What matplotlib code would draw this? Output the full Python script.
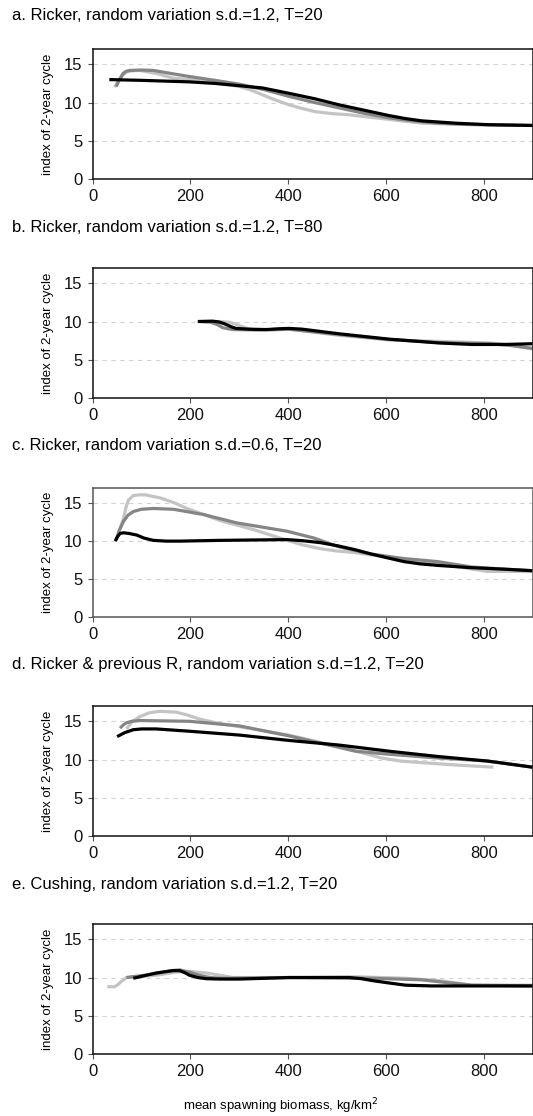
import numpy as np
import matplotlib
matplotlib.use("Agg")
import matplotlib.pyplot as plt

plt.rcParams['font.family'] = ['Liberation Sans', 'DejaVu Sans']

titles = [
    "a. Ricker, random variation s.d.=1.2, T=20",
    "b. Ricker, random variation s.d.=1.2, T=80",
    "c. Ricker, random variation s.d.=0.6, T=20",
    "d. Ricker & previous R, random variation s.d.=1.2, T=20",
    "e. Cushing, random variation s.d.=1.2, T=20",
]

# panel a
a_light_x = [45, 52, 59, 69, 80, 96, 130, 164, 198, 250, 300, 325, 348, 375, 402, 430, 456, 490, 524, 592, 674, 776, 900]
a_light_y = [12.0, 12.8, 13.4, 14.0, 14.15, 14.2, 13.8, 13.2, 13.0, 12.6, 12.1, 11.6, 11.0, 10.3, 9.7, 9.2, 8.8, 8.55, 8.4, 7.9, 7.3, 7.1, 7.0]
a_dark_x = [48, 55, 62, 69, 76, 100, 124, 160, 198, 250, 300, 350, 402, 454, 504, 555, 606, 655, 708, 760, 810, 900]
a_dark_y = [12.1, 13.0, 13.8, 14.1, 14.2, 14.25, 14.2, 13.8, 13.4, 12.9, 12.4, 11.7, 10.8, 10.0, 9.3, 8.6, 8.0, 7.6, 7.3, 7.15, 7.1, 7.0]
a_black_x = [34, 100, 198, 250, 300, 348, 402, 454, 504, 555, 606, 640, 674, 742, 810, 900]
a_black_y = [13.0, 12.9, 12.7, 12.5, 12.2, 11.9, 11.2, 10.5, 9.7, 9.0, 8.3, 7.9, 7.6, 7.3, 7.1, 7.0]

# panel b
b_light_x = [240, 260, 280, 295, 307, 320, 334, 370, 402, 504, 606, 708, 810, 850, 900]
b_light_y = [10.0, 10.0, 9.9, 9.6, 9.3, 9.05, 8.9, 8.9, 9.0, 8.2, 7.6, 7.4, 7.2, 7.0, 6.4]
b_dark_x = [219, 242, 255, 266, 277, 287, 334, 402, 504, 606, 708, 810, 850, 900]
b_dark_y = [10.0, 9.9, 9.6, 9.2, 9.05, 8.95, 8.9, 9.0, 8.3, 7.65, 7.25, 7.1, 6.9, 6.5]
b_black_x = [215, 245, 258, 270, 282, 293, 320, 355, 380, 402, 429, 504, 606, 708, 776, 844, 900]
b_black_y = [10.0, 10.05, 9.95, 9.7, 9.35, 9.1, 9.0, 8.95, 9.05, 9.1, 9.0, 8.4, 7.7, 7.2, 7.0, 7.0, 7.1]

# panel c
c_light_x = [48, 55, 63, 68, 73, 83, 95, 107, 138, 165, 193, 261, 330, 398, 430, 466, 500, 535, 603, 671, 740, 808, 850, 900]
c_light_y = [10.1, 11.5, 13.0, 14.4, 15.4, 16.0, 16.1, 16.1, 15.7, 15.1, 14.3, 12.7, 11.5, 10.1, 9.5, 9.0, 8.7, 8.5, 7.9, 7.3, 6.7, 6.0, 6.0, 6.0]
c_dark_x = [48, 55, 63, 72, 83, 100, 124, 165, 227, 295, 398, 453, 501, 535, 569, 637, 706, 774, 843, 900]
c_dark_y = [10.2, 11.5, 12.6, 13.4, 13.9, 14.2, 14.3, 14.2, 13.5, 12.4, 11.3, 10.4, 9.3, 8.8, 8.3, 7.7, 7.3, 6.6, 6.3, 6.1]
c_black_x = [46, 51, 56, 63, 75, 90, 105, 124, 150, 179, 261, 398, 430, 466, 500, 535, 570, 603, 637, 670, 706, 774, 843, 900]
c_black_y = [10.0, 10.6, 11.0, 11.1, 11.0, 10.8, 10.4, 10.1, 10.0, 10.0, 10.1, 10.2, 10.05, 9.8, 9.4, 8.9, 8.3, 7.8, 7.3, 7.0, 6.8, 6.5, 6.3, 6.1]

# panel d
d_light_x = [69, 80, 96, 115, 137, 171, 195, 218, 260, 300, 401, 503, 550, 591, 630, 672, 740, 820]
d_light_y = [14.0, 14.9, 15.6, 16.1, 16.3, 16.2, 15.8, 15.3, 14.7, 14.3, 13.2, 11.7, 10.9, 10.2, 9.8, 9.6, 9.3, 9.0]
d_dark_x = [56, 62, 69, 80, 96, 198, 300, 401, 469, 537, 605, 706, 808, 900]
d_dark_y = [14.1, 14.5, 14.8, 15.0, 15.1, 15.0, 14.4, 13.1, 12.1, 11.1, 10.7, 10.2, 9.8, 9.0]
d_black_x = [50, 65, 83, 100, 130, 198, 300, 401, 503, 605, 706, 808, 900]
d_black_y = [13.0, 13.5, 13.9, 14.0, 14.0, 13.7, 13.2, 12.5, 11.9, 11.1, 10.4, 9.8, 9.0]

# panel e
e_light_x = [30, 45, 52, 59, 69, 130, 170, 198, 232, 260, 287, 402, 538, 640, 708, 745, 776, 900]
e_light_y = [8.8, 8.8, 9.1, 9.5, 10.0, 10.3, 10.7, 10.8, 10.6, 10.3, 10.0, 10.0, 10.1, 9.9, 9.6, 9.3, 9.0, 9.0]
e_dark_x = [69, 130, 160, 178, 198, 218, 240, 266, 402, 572, 674, 730, 776, 900]
e_dark_y = [10.0, 10.5, 10.9, 11.0, 10.7, 10.3, 10.0, 9.9, 10.0, 9.9, 9.7, 9.3, 9.0, 8.9]
e_black_x = [83, 130, 164, 178, 188, 198, 215, 232, 260, 300, 402, 524, 550, 572, 605, 640, 694, 900]
e_black_y = [9.9, 10.6, 10.9, 10.9, 10.65, 10.3, 10.0, 9.85, 9.8, 9.8, 10.0, 10.0, 9.85, 9.6, 9.3, 9.0, 8.9, 8.9]

series = [
    [(a_light_x, a_light_y), (a_dark_x, a_dark_y), (a_black_x, a_black_y)],
    [(b_light_x, b_light_y), (b_dark_x, b_dark_y), (b_black_x, b_black_y)],
    [(c_light_x, c_light_y), (c_dark_x, c_dark_y), (c_black_x, c_black_y)],
    [(d_light_x, d_light_y), (d_dark_x, d_dark_y), (d_black_x, d_black_y)],
    [(e_light_x, e_light_y), (e_dark_x, e_dark_y), (e_black_x, e_black_y)],
]
colors = ['#c4c4c4', '#858585', '#000000']

W, H = 533, 1116
fig = plt.figure(figsize=(W / 100, H / 100), dpi=100)

# axes top/bottom in pixels, title centre in pixels
boxes = [(49, 179, 15), (268, 398, 227), (488, 617, 446), (706, 836, 664), (924, 1054, 885)]
left_px, right_px = 92.7, 532.5

for i, (top, bot, ty) in enumerate(boxes):
    ax = fig.add_axes([left_px / W, 1 - bot / H, (right_px - left_px) / W, (bot - top) / H])
    for (xs, ys), c in zip(series[i], colors):
        ax.plot(xs, ys, color=c, lw=2.3, solid_joinstyle='round', solid_capstyle='butt')
    ax.set_xlim(0, 900)
    ax.set_ylim(0, 17)
    ax.set_xticks([0, 200, 400, 600, 800])
    ax.set_yticks([0, 5, 10, 15])
    for y in [5, 10, 15]:
        ax.axhline(y, color='#d4d4d4', lw=0.8, ls=(0, (4, 4)), zorder=0)
    spine_c = '#555555' if i == 2 else '#111111'
    for s in ax.spines.values():
        s.set_color(spine_c)
        s.set_linewidth(1.1)
    ax.tick_params(direction='out', length=3.5, width=0.8, colors='#555555',
                   labelcolor='#111111', labelsize=12, pad=4)
    ax.set_ylabel("index of 2-year cycle", fontsize=9.5, labelpad=7)
    fig.text(12 / W, 1 - ty / H, titles[i], fontsize=12, ha='left', va='center')

fig.text(281 / W, 1 - 1106 / H, "mean spawning biomass, kg/km$^2$", fontsize=9.5,
         ha='center', va='center')

fig.savefig("out.png", dpi=100)
